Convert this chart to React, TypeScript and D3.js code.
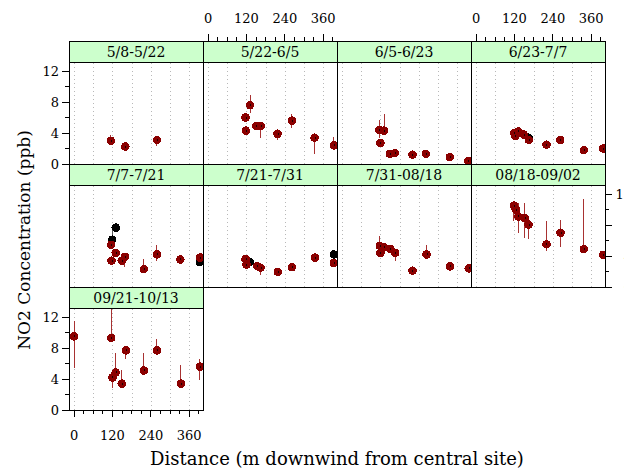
import React from 'react';
import * as d3 from 'd3';

const periods = ['5/8-5/22', '5/22-6/5', '6/5-6/23', '6/23-7/7', '7/7-7/21', '7/21-7/31', '7/31-08/18', '08/18-09/02', '09/21-10/13'];

// [distance (m), NO2 (ppb), low, high]
const p1 = [[115, 3.0, 2.5, 3.8], [160, 2.25, 2.0, 2.5], [259, 3.1, 2.3, 3.6]];
const p2 = [[117, 6.0, 5.6, 6.4], [131, 7.6, 6.6, 8.9], [118, 4.3, 3.7, 4.8], [151, 4.9, 4.5, 5.3], [164, 4.9, 3.3, 5.2],
  [217, 3.9, 3.1, 4.3], [262, 5.6, 4.7, 6.4], [333, 3.4, 1.3, 3.8], [393, 2.4, 2.1, 3.5]];
const p3 = [[116, 4.4, 3.4, 5.7], [131, 4.3, 3.9, 6.4], [120, 2.7, 2.4, 3.0], [149, 1.3, 1.1, 1.5], [165, 1.4, 1.1, 1.7],
  [220, 1.2, 0.9, 1.4], [262, 1.3, 1.0, 1.6], [337, 0.9, 0.4, 1.0], [395, 0.4, 0.1, 0.6]];
const p4 = [[119, 4.0, 3.7, 4.3], [132, 4.2, 3.9, 4.4], [123, 3.6, 3.3, 3.8], [149, 3.8, 3.5, 4.0], [165, 3.1, 2.8, 3.3],
  [220, 2.5, 2.2, 2.8], [263, 3.1, 2.8, 3.4], [337, 1.8, 1.5, 2.0], [397, 2.0, 1.7, 2.3]];
const p5 = [[116, 5.45, 5.1, 5.8], [130, 4.4, 4.0, 4.7], [117, 3.4, 3.1, 3.7], [149, 3.4, 3.0, 3.9], [159, 3.9, 2.55, 4.2],
  [218, 2.3, 2.0, 3.6], [259, 4.2, 3.4, 5.4], [332, 3.55, 3.2, 3.8], [394, 3.8, 3.5, 4.1]];
const p6 = [[117, 3.6, 3.3, 4.0], [120, 2.9, 2.6, 3.1], [153, 2.7, 2.4, 3.0], [164, 2.5, 1.56, 2.8], [218, 1.95, 1.7, 2.2],
  [262, 2.55, 2.3, 2.8], [334, 3.8, 3.4, 4.1], [393, 3.1, 2.8, 3.4]];
const p7 = [[118, 5.3, 5.0, 6.6], [120, 4.4, 4.1, 4.7], [131, 5.15, 4.8, 5.4], [151, 4.9, 4.6, 5.2], [166, 4.4, 3.4, 4.7],
  [220, 2.1, 1.8, 2.4], [264, 4.2, 3.9, 5.45], [337, 2.65, 2.1, 2.9], [396, 2.4, 1.9, 2.7]];
const p8 = [[118, 10.5, 8.5, 11.1], [124, 10.0, 8.8, 10.6], [132, 9.1, 7.0, 10.9], [152, 8.9, 6.3, 10.9], [164, 8.05, 6.2, 9.1],
  [220, 5.5, 4.6, 8.5], [264, 7.0, 5.2, 8.6], [337, 4.9, 4.6, 11.3], [397, 4.15, 3.9, 4.4]];
const p9 = [[0, 9.5, 5.4, 11.5], [116, 9.3, 8.9, 13.2], [120, 4.2, 2.8, 4.8], [130, 4.85, 4.3, 7.3], [149, 3.4, 3.1, 5.1],
  [162, 7.7, 6.6, 8.0], [218, 5.1, 4.5, 7.3], [259, 7.7, 7.1, 9.2], [334, 3.4, 3.1, 5.8], [393, 5.6, 3.9, 6.6]];

// second (black) estimate, where it shows from under the red one
const b4 = [[164, 3.4, 3.2, 3.6]];
const b5 = [[130, 7.66, 7.4, 7.9], [119, 6.1, 6.1, 7.3], [393, 3.2, 3.0, 3.4]];
const b6 = [[130, 3.2, 3.0, 3.9], [393, 4.2, 4.0, 4.4]];

const series = [p1, p2, p3, p4, p5, p6, p7, p8, p9];
const blacks = [[], [], [], b4, b5, b6, [], [], []];

const xTicks = [0, 120, 240, 360];
const xMinor = d3.range(0, 391, 30);
const xGrid = d3.range(0, 361, 60);
const yTicks = [0, 4, 8, 12];
const yMinor = [2, 6, 10];

const W = 624, H = 469;
const left = 69, colW = 134, top = 41, stripH = 21.5, panelH = 101.5;
const FONT = '"DejaVu Serif", serif';
const RED = '#8b0000';
const BAR = '#a83232';

export default function App() {
  const x = d3.scaleLinear().domain([-16, 403]).range([0, colW]);
  const y = d3.scaleLinear().domain([0, 13.1]).range([panelH, 0]);

  const panels = series.map((data, i) => {
    const row = Math.floor(i / 4);
    const col = i % 4;
    const px = left + col * colW;
    const py = top + row * (stripH + panelH);
    const clip = `clip${i}`;
    return (
      <g key={i} transform={`translate(${px},${py})`}>
        <rect x={0} y={0} width={colW} height={stripH} fill="#ccffcc" stroke="#000" />
        <text x={colW / 2} y={stripH / 2 + 5} textAnchor="middle" fontFamily={FONT} fontSize={14} fill="#000">{periods[i]}</text>
        <g transform={`translate(0,${stripH})`}>
          <clipPath id={clip}><rect x={0} y={0} width={colW} height={panelH} /></clipPath>
          <rect x={0} y={0} width={colW} height={panelH} fill="#fff" />
          {xGrid.map(t => (
            <line key={t} x1={Math.round(x(t)) + 0.5} x2={Math.round(x(t)) + 0.5} y1={0} y2={panelH}
              stroke="#b8b8b8" strokeDasharray="1,3" />
          ))}
          <g clipPath={`url(#${clip})`}>
            {blacks[i].map((d, j) => (
              <g key={'b' + j}>
                <line x1={x(d[0])} x2={x(d[0])} y1={y(d[2])} y2={y(d[3])} stroke="#555" />
                <circle cx={x(d[0])} cy={y(d[1])} r={4.3} fill="#000" />
              </g>
            ))}
            {data.map((d, j) => (
              <line key={'e' + j} x1={x(d[0])} x2={x(d[0])} y1={y(d[2])} y2={y(d[3])} stroke={BAR} strokeWidth={1} />
            ))}
            {data.map((d, j) => (
              <circle key={'c' + j} cx={x(d[0])} cy={y(d[1])} r={4.3} fill={RED} />
            ))}
            {data.map((d, j) => (
              <line key={'m' + j} x1={x(d[0]) + 0.5} x2={x(d[0]) + 0.5} y1={y(d[1]) - 1} y2={y(d[1]) + 1} stroke="#000" strokeWidth={0.8} />
            ))}
          </g>
          <rect x={0} y={0} width={colW} height={panelH} fill="none" stroke="#000" />
        </g>
      </g>
    );
  });

  // y axes: left on rows 0 and 2, right on row 1 (its labels run off the page edge)
  const yAxis = (row: number, side: 'left' | 'right') => {
    const py = top + row * (stripH + panelH) + stripH;
    const ax = side === 'left' ? left : left + 4 * colW;
    const dir = side === 'left' ? -1 : 1;
    return (
      <g key={'y' + row} transform={`translate(${ax},${py})`}>
        {yTicks.map(t => (
          <g key={t}>
            <line x1={0} x2={dir * 7} y1={y(t)} y2={y(t)} stroke="#000" />
            <text x={side === 'left' ? -10 : 27} y={y(t) + 5} textAnchor="end" fontFamily={FONT} fontSize={13} fill="#000">{t}</text>
          </g>
        ))}
        {yMinor.map(t => (
          <line key={'m' + t} x1={0} x2={dir * 4} y1={y(t)} y2={y(t)} stroke="#000" />
        ))}
      </g>
    );
  };

  // x axes: top above columns 1 and 3 (0-based), bottom under column 0 of last row
  const xAxis = (col: number, yy: number, side: 'top' | 'bottom') => {
    const dir = side === 'top' ? -1 : 1;
    return (
      <g key={'x' + col + side} transform={`translate(${left + col * colW},${yy})`}>
        {xMinor.map(t => (
          <line key={t} x1={x(t)} x2={x(t)} y1={0} y2={dir * (t % 120 === 0 ? 7 : 4)} stroke="#000" />
        ))}
        {xTicks.map(t => (
          <text key={'l' + t} x={x(t)} y={side === 'top' ? -18 : 30} textAnchor="middle" fontFamily={FONT} fontSize={13} fill="#000">{t}</text>
        ))}
      </g>
    );
  };

  const bottomY = top + 3 * (stripH + panelH);

  return (
    <svg width={W} height={H} style={{ position: 'absolute', left: 0, top: 0 }} shapeRendering="crispEdges">
      <rect x={0} y={0} width={W} height={H} fill="#fff" />
      {panels}
      {yAxis(0, 'left')}
      {yAxis(1, 'right')}
      {yAxis(2, 'left')}
      {xAxis(1, top, 'top')}
      {xAxis(3, top, 'top')}
      {xAxis(0, bottomY, 'bottom')}
      <text x={337} y={465} textAnchor="middle" fontFamily={FONT} fontSize={18} fill="#000">Distance (m downwind from central site)</text>
      <text transform="translate(30,240) rotate(-90)" textAnchor="middle" fontFamily={FONT} fontSize={17} fill="#000">NO2 Concentration (ppb)</text>
    </svg>
  );
}
